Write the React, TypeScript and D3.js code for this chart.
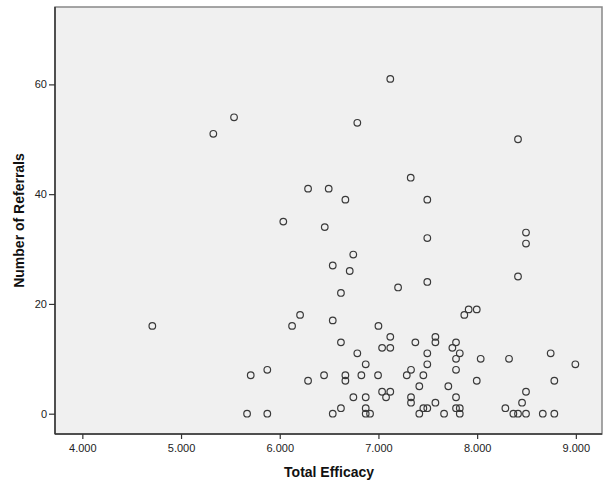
import React, { useRef, useEffect } from "react";
import * as d3 from "d3";

// Total Efficacy (x) and Number of Referrals (y)
const efficacy = [
  4.709, 5.327, 5.537, 5.669, 5.706, 5.874, 5.874, 6.036, 6.125, 6.206,
  6.287, 6.287, 6.449, 6.456, 6.496, 6.537, 6.537, 6.537, 6.62, 6.62,
  6.62, 6.665, 6.665, 6.665, 6.709, 6.745, 6.746, 6.786, 6.786, 6.827,
  6.871, 6.871, 6.871, 6.871, 6.915, 6.996, 7.0, 7.037, 7.037, 7.077,
  7.12, 7.12, 7.12, 7.12, 7.199, 7.287, 7.327, 7.33, 7.33, 7.33,
  7.374, 7.414, 7.414, 7.455, 7.455, 7.495, 7.495, 7.495, 7.495, 7.495,
  7.495, 7.577, 7.577, 7.577, 7.665, 7.708, 7.749, 7.786, 7.786, 7.786,
  7.786, 7.786, 7.824, 7.824, 7.824, 7.87, 7.914, 7.996, 7.996, 8.036,
  8.286, 8.323, 8.367, 8.414, 8.414, 8.414, 8.455, 8.495, 8.495, 8.495,
  8.495, 8.665, 8.745, 8.782, 8.782, 8.995,
];
const referrals = [
  16, 51, 54, 0, 7, 8, 0, 35, 16, 18,
  41, 6, 7, 34, 41, 27, 17, 0, 22, 13,
  1, 39, 7, 6, 26, 29, 3, 53, 11, 7,
  9, 3, 1, 0, 0, 7, 16, 12, 4, 3,
  61, 14, 12, 4, 23, 7, 43, 8, 3, 2,
  13, 5, 0, 7, 1, 39, 32, 24, 11, 9,
  1, 14, 13, 2, 0, 5, 12, 13, 10, 8,
  3, 1, 11, 1, 0, 18, 19, 19, 6, 10,
  1, 10, 0, 50, 25, 0, 2, 33, 31, 4,
  0, 0, 11, 6, 0, 9,
];
const xTicks = [4, 5, 6, 7, 8, 9];
const yTicks = [0, 20, 40, 60];

const App = () => {
  const ref = useRef<SVGSVGElement | null>(null);

  useEffect(() => {
    const width = 605;
    const height = 487;
    const margin = { top: 7, right: 3, bottom: 53, left: 55 };
    const innerW = width - margin.left - margin.right;
    const innerH = height - margin.top - margin.bottom;

    const svg = d3.select(ref.current);
    svg.selectAll("*").remove();

    const g = svg
      .append("g")
      .attr("transform", `translate(${margin.left},${margin.top})`);

    const x = d3.scaleLinear().domain([3.723, 9.265]).range([0, innerW]);
    const y = d3.scaleLinear().domain([-3.7, 74.1]).range([innerH, 0]);

    // plot background and frame
    g.append("rect")
      .attr("width", innerW)
      .attr("height", innerH)
      .attr("fill", "#f0f0f0")
      .attr("stroke", "#888")
      .attr("stroke-width", 1.5);

    const xAxis = g
      .append("g")
      .attr("transform", `translate(0,${innerH})`)
      .call(
        d3.axisBottom(x)
          .tickValues(xTicks)
          .tickFormat(d3.format(".3f"))
          .tickSizeOuter(0)
          .tickSize(5)
          .tickPadding(5)
      );

    const yAxis = g
      .append("g")
      .call(
        d3.axisLeft(y)
          .tickValues(yTicks)
          .tickSizeOuter(0)
          .tickSize(6)
          .tickPadding(2)
      );

    [xAxis, yAxis].forEach((ax) => {
      ax.select(".domain").attr("stroke", "#333").attr("stroke-width", 1.5);
      ax.selectAll(".tick line").attr("stroke", "#333").attr("stroke-width", 1.2);
      ax.selectAll("text")
        .attr("fill", "#222")
        .style("font-family", "Arial, 'Liberation Sans', sans-serif")
        .style("font-size", "11px");
    });
    yAxis.select(".domain").attr("d", `M0,0V${innerH}`);
    xAxis.select(".domain").attr("d", `M0,0H${innerW}`);

    g.selectAll("circle.pt")
      .data(d3.range(efficacy.length))
      .enter()
      .append("circle")
      .attr("class", "pt")
      .attr("cx", (i) => x(efficacy[i]))
      .attr("cy", (i) => y(referrals[i]))
      .attr("r", 3.3)
      .attr("fill", "none")
      .attr("stroke", "#3a3a3a")
      .attr("stroke-width", 1.2);

    svg
      .append("text")
      .attr("x", margin.left + x(6.5))
      .attr("y", 477)
      .attr("text-anchor", "middle")
      .style("font-family", "Arial, 'Liberation Sans', sans-serif")
      .style("font-size", "14px")
      .style("font-weight", "bold")
      .attr("fill", "#111")
      .text("Total Efficacy");

    svg
      .append("text")
      .attr("transform", `translate(24,${margin.top + innerH / 2}) rotate(-90)`)
      .attr("text-anchor", "middle")
      .style("font-family", "Arial, 'Liberation Sans', sans-serif")
      .style("font-size", "14px")
      .style("font-weight", "bold")
      .attr("fill", "#111")
      .text("Number of Referrals");
  }, []);

  return (
    <svg
      ref={ref}
      width={605}
      height={487}
      style={{ position: "absolute", left: 0, top: 0, background: "#fff" }}
    />
  );
};

export default App;
